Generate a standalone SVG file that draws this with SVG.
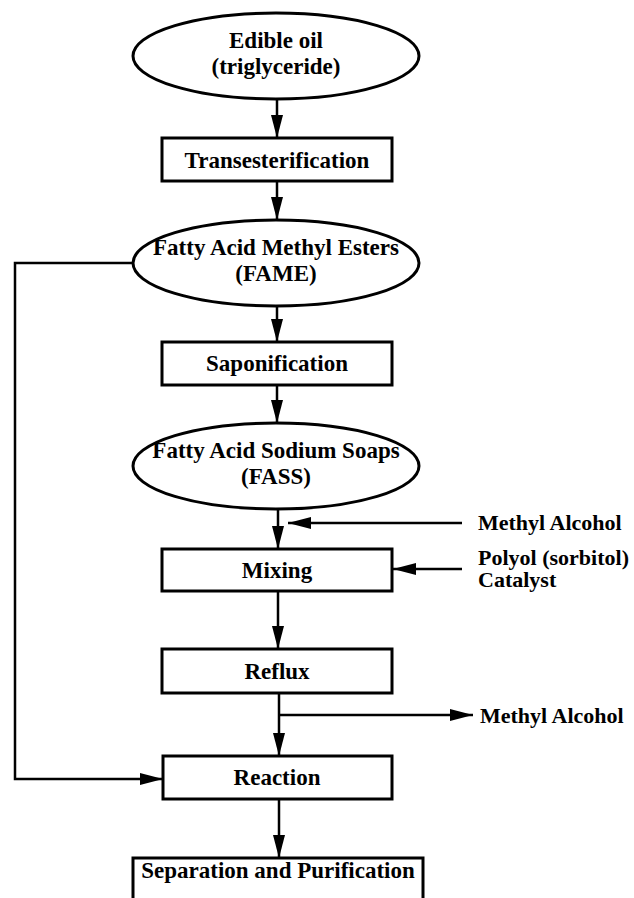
<svg xmlns="http://www.w3.org/2000/svg" width="634" height="898" viewBox="0 0 634 898">
<style>
.n{fill:#fff;stroke:#000;stroke-width:3}
.t{font-family:"Liberation Serif","Times New Roman",serif;font-weight:bold;font-size:23px;fill:#000}
.s{font-size:22px}
.c{text-anchor:middle}
.e{stroke:#000;stroke-width:2.5;fill:none}
</style>
<defs>
<marker id="ah" markerUnits="userSpaceOnUse" markerWidth="23" markerHeight="12" refX="23" refY="6" orient="auto">
<path d="M0,0 L23,6 L0,12 z" fill="#000"/>
</marker>
</defs>
<rect width="634" height="898" fill="#fff"/>
<g id="connectors">
<line class="e" x1="277" y1="99" x2="277" y2="138" marker-end="url(#ah)"/>
<line class="e" x1="277" y1="181" x2="277" y2="220" marker-end="url(#ah)"/>
<line class="e" x1="277" y1="306" x2="277" y2="342" marker-end="url(#ah)"/>
<line class="e" x1="277" y1="385" x2="277" y2="423" marker-end="url(#ah)"/>
<line class="e" x1="278" y1="509" x2="278" y2="549" marker-end="url(#ah)"/>
<line class="e" x1="462" y1="523" x2="288" y2="523" marker-end="url(#ah)"/>
<line class="e" x1="462" y1="569" x2="393" y2="569" marker-end="url(#ah)"/>
<line class="e" x1="278" y1="591" x2="278" y2="649" marker-end="url(#ah)"/>
<line class="e" x1="279" y1="693" x2="279" y2="756" marker-end="url(#ah)"/>
<line class="e" x1="279" y1="715" x2="473" y2="715" marker-end="url(#ah)"/>
<polyline class="e" points="133,263 15,263 15,779 163,779" marker-end="url(#ah)"/>
<line class="e" x1="279" y1="799" x2="279" y2="858" marker-end="url(#ah)"/>
</g>
<g id="edible-oil">
<ellipse class="n" cx="276" cy="56" rx="143" ry="43"/>
<text class="t c" x="276" y="48">Edible oil</text>
<text class="t c" x="276" y="74">(triglyceride)</text>
</g>
<g id="transesterification">
<rect class="n" x="162" y="138" width="230" height="43"/>
<text class="t c" x="277" y="168">Transesterification</text>
</g>
<g id="fame">
<ellipse class="n" cx="276" cy="263" rx="143" ry="43"/>
<text class="t c" x="276" y="255">Fatty Acid Methyl Esters</text>
<text class="t c" x="276" y="281">(FAME)</text>
</g>
<g id="saponification">
<rect class="n" x="162" y="342" width="230" height="43"/>
<text class="t c" x="277" y="371">Saponification</text>
</g>
<g id="fass">
<ellipse class="n" cx="276" cy="466" rx="143" ry="43"/>
<text class="t c" x="276" y="458">Fatty Acid Sodium Soaps</text>
<text class="t c" x="276" y="484">(FASS)</text>
</g>
<g id="mixing">
<rect class="n" x="162" y="549" width="230" height="42"/>
<text class="t c" x="277" y="578">Mixing</text>
</g>
<g id="reflux">
<rect class="n" x="162" y="649" width="230" height="44"/>
<text class="t c" x="277" y="679">Reflux</text>
</g>
<g id="reaction">
<rect class="n" x="163" y="756" width="229" height="43"/>
<text class="t c" x="277" y="785">Reaction</text>
</g>
<g id="separation">
<rect class="n" x="133" y="858" width="290" height="44"/>
<text class="t c" x="278" y="878">Separation and Purification</text>
</g>
<g id="methyl-alcohol-in">
<text class="t s" x="478" y="530">Methyl Alcohol</text>
</g>
<g id="polyol-catalyst">
<text class="t s" x="478" y="565" textLength="151" lengthAdjust="spacingAndGlyphs">Polyol (sorbitol)</text>
<text class="t s" x="478" y="587">Catalyst</text>
</g>
<g id="methyl-alcohol-out">
<text class="t s" x="480" y="723">Methyl Alcohol</text>
</g>
</svg>
